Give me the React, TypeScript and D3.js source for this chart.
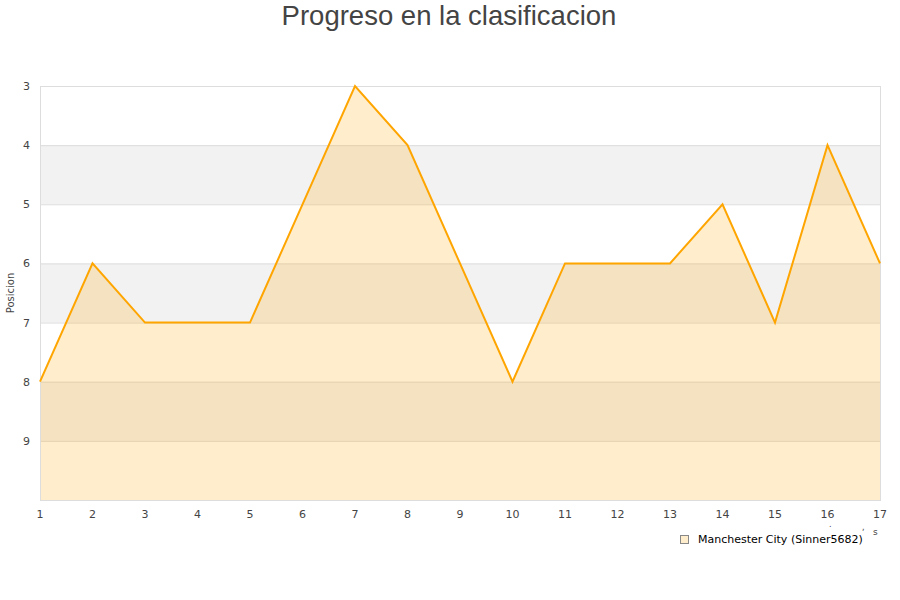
import React, { useEffect, useRef } from 'react';
import * as d3 from 'd3';

const jornadas = [1, 2, 3, 4, 5, 6, 7, 8, 9, 10, 11, 12, 13, 14, 15, 16, 17];
const posiciones = [8, 6, 7, 7, 7, 5, 3, 4, 6, 8, 6, 6, 6, 5, 7, 4, 6];
const yTicks = [3, 4, 5, 6, 7, 8, 9];
const bandStarts = [4, 6, 8];
const teamName = 'Manchester City (Sinner5682)';
const chartTitle = 'Progreso en la clasificacion';

const App: React.FC = () => {
    const ref = useRef<SVGSVGElement>(null);
    const width = 900;
    const height = 600;
    const margin = { top: 86, right: 20, bottom: 100, left: 40 };
    const innerW = width - margin.left - margin.right;
    const innerH = height - margin.top - margin.bottom;

    useEffect(() => {
        const svg = d3.select(ref.current);
        svg.selectAll('*').remove();
        const font = '"DejaVu Sans", sans-serif';

        svg.append('text')
            .attr('x', 449)
            .attr('y', 25)
            .attr('text-anchor', 'middle')
            .attr('font-family', '"Liberation Sans", Arial, sans-serif')
            .attr('font-size', 27.5)
            .attr('fill', '#444')
            .text(chartTitle);

        const g = svg.append('g').attr('transform', `translate(${margin.left},${margin.top})`);

        const x = d3.scaleLinear().domain([1, 17]).range([0, innerW]);
        const y = d3.scaleLinear().domain([3, 10]).range([0, innerH]);

        // bandas alternas
        g.selectAll('.band')
            .data(bandStarts)
            .enter()
            .append('rect')
            .attr('x', 0)
            .attr('y', d => y(d))
            .attr('width', innerW)
            .attr('height', d => y(d + 1) - y(d))
            .attr('fill', '#f2f2f2');

        // lineas de rejilla
        g.selectAll('.grid')
            .data(yTicks)
            .enter()
            .append('line')
            .attr('x1', 0)
            .attr('x2', innerW)
            .attr('y1', d => y(d) + 0.5)
            .attr('y2', d => y(d) + 0.5)
            .attr('stroke', '#dddddd');

        const area = d3.area<number>()
            .x((_, i) => x(jornadas[i]))
            .y0(y(10))
            .y1(d => y(d));

        g.append('path')
            .datum(posiciones)
            .attr('d', area)
            .attr('fill', '#ffa500')
            .attr('fill-opacity', 0.2);

        // borde
        g.append('rect')
            .attr('x', 0.5)
            .attr('y', 0.5)
            .attr('width', innerW)
            .attr('height', innerH)
            .attr('fill', 'none')
            .attr('stroke', '#dddddd');

        const line = d3.line<number>()
            .x((_, i) => x(jornadas[i]))
            .y(d => y(d));

        g.append('path')
            .datum(posiciones)
            .attr('d', line)
            .attr('fill', 'none')
            .attr('stroke', '#ffa500')
            .attr('stroke-width', 2)
            .attr('stroke-linejoin', 'miter');

        // etiquetas eje y
        g.selectAll('.ylab')
            .data(yTicks)
            .enter()
            .append('text')
            .attr('x', -10)
            .attr('y', d => y(d) + 4)
            .attr('text-anchor', 'end')
            .attr('font-family', font)
            .attr('font-size', 11)
            .attr('fill', '#444')
            .text(d => d);

        // etiquetas eje x
        g.selectAll('.xlab')
            .data(jornadas)
            .enter()
            .append('text')
            .attr('x', d => x(d))
            .attr('y', innerH + 18)
            .attr('text-anchor', 'middle')
            .attr('font-family', font)
            .attr('font-size', 11)
            .attr('fill', '#444')
            .text(d => d);

        svg.append('text')
            .attr('transform', `translate(14,${margin.top + innerH / 2}) rotate(-90)`)
            .attr('text-anchor', 'middle')
            .attr('font-family', font)
            .attr('font-size', 10)
            .attr('fill', '#444')
            .text('Posicion');

        // restos del titulo del eje x, recortado
        svg.append('text')
            .attr('x', 873)
            .attr('y', 535)
            .attr('font-family', font)
            .attr('font-size', 9)
            .attr('fill', '#444')
            .text('s');
        svg.append('text')
            .attr('x', 829)
            .attr('y', 527)
            .attr('font-family', font)
            .attr('font-size', 8)
            .attr('fill', '#444')
            .text('.');
        svg.append('text')
            .attr('x', 862)
            .attr('y', 530)
            .attr('font-family', font)
            .attr('font-size', 8)
            .attr('fill', '#444')
            .text(',');

        // leyenda
        svg.append('rect')
            .attr('x', 680.5)
            .attr('y', 535.5)
            .attr('width', 8)
            .attr('height', 8)
            .attr('fill', '#ffedcc')
            .attr('stroke', '#888');
        svg.append('text')
            .attr('x', 698)
            .attr('y', 543)
            .attr('font-family', font)
            .attr('font-size', 11)
            .attr('fill', '#000')
            .text(teamName);
        //eslint-disable-next-line
    }, []);

    return (
        <svg
            ref={ref}
            width={width}
            height={height}
            style={{ position: 'absolute', left: 0, top: 0, background: '#fff' }}
        ></svg>
    );
};

export default App;
